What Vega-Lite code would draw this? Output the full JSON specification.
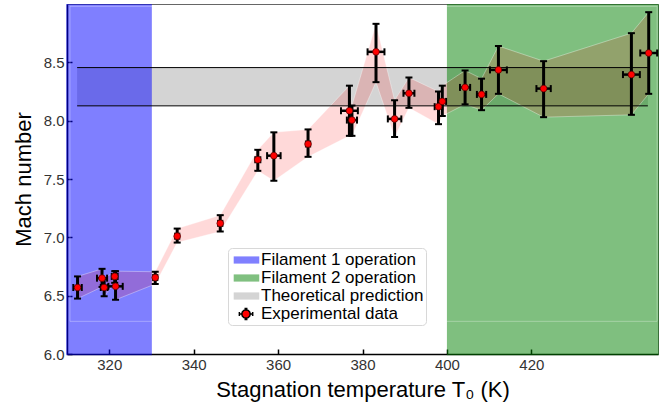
{
  "$schema": "https://vega.github.io/schema/vega-lite/v6.json",
  "width": 591,
  "height": 350,
  "autosize": {"type": "none"},
  "padding": {"left": 67, "top": 4, "right": 3, "bottom": 53},
  "config": {
    "font": "Liberation Sans",
    "view": {"stroke": "#666", "strokeWidth": 1},
    "legend": {"symbolFillColor": "#ff0000"}
  },
  "datasets": {
    "exp": [
      {"T": 312.5, "M": 6.57, "Mlo": 6.475, "Mhi": 6.665, "Tlo": 311.5, "Thi": 313.5},
      {"T": 318.3, "M": 6.65, "Mlo": 6.575, "Mhi": 6.73, "Tlo": 317.1, "Thi": 319.5},
      {"T": 318.8, "M": 6.57, "Mlo": 6.495, "Mhi": 6.645, "Tlo": 318.0, "Thi": 319.6},
      {"T": 321.3, "M": 6.665, "Mlo": 6.61, "Mhi": 6.71, "Tlo": 320.6, "Thi": 322.0},
      {"T": 321.5, "M": 6.58, "Mlo": 6.465, "Mhi": 6.71, "Tlo": 319.8, "Thi": 323.2},
      {"T": 330.9, "M": 6.655, "Mlo": 6.6, "Mhi": 6.705, "Tlo": 330.4, "Thi": 331.4},
      {"T": 336.1, "M": 7.01, "Mlo": 6.955, "Mhi": 7.075, "Tlo": 335.6, "Thi": 336.6},
      {"T": 346.3, "M": 7.12, "Mlo": 7.05, "Mhi": 7.19, "Tlo": 345.8, "Thi": 346.8},
      {"T": 355.2, "M": 7.665, "Mlo": 7.57, "Mhi": 7.75, "Tlo": 354.6, "Thi": 355.8},
      {"T": 359.0, "M": 7.7, "Mlo": 7.485, "Mhi": 7.9, "Tlo": 357.4, "Thi": 360.6},
      {"T": 367.1, "M": 7.8, "Mlo": 7.69, "Mhi": 7.925, "Tlo": 366.6, "Thi": 367.6},
      {"T": 376.9, "M": 8.085, "Mlo": 7.87, "Mhi": 8.3, "Tlo": 374.9, "Thi": 378.9},
      {"T": 377.5, "M": 8.005, "Mlo": 7.87, "Mhi": 8.13, "Tlo": 376.3, "Thi": 378.7},
      {"T": 383.2, "M": 8.59, "Mlo": 8.33, "Mhi": 8.83, "Tlo": 381.2, "Thi": 385.2},
      {"T": 387.6, "M": 8.015, "Mlo": 7.86, "Mhi": 8.175, "Tlo": 386.0, "Thi": 389.2},
      {"T": 391.0, "M": 8.235, "Mlo": 8.11, "Mhi": 8.37, "Tlo": 389.7, "Thi": 392.3},
      {"T": 398.0, "M": 8.12, "Mlo": 7.97, "Mhi": 8.25, "Tlo": 397.1, "Thi": 398.9},
      {"T": 398.9, "M": 8.165, "Mlo": 8.04, "Mhi": 8.3, "Tlo": 398.0, "Thi": 399.8},
      {"T": 404.3, "M": 8.285, "Mlo": 8.14, "Mhi": 8.43, "Tlo": 403.1, "Thi": 405.5},
      {"T": 408.2, "M": 8.225, "Mlo": 8.09, "Mhi": 8.36, "Tlo": 407.1, "Thi": 409.3},
      {"T": 412.2, "M": 8.435, "Mlo": 8.23, "Mhi": 8.64, "Tlo": 410.2, "Thi": 414.2},
      {"T": 422.9, "M": 8.275, "Mlo": 8.03, "Mhi": 8.51, "Tlo": 421.2, "Thi": 424.6},
      {"T": 443.7, "M": 8.395, "Mlo": 8.05, "Mhi": 8.75, "Tlo": 441.7, "Thi": 445.7},
      {"T": 447.8, "M": 8.58, "Mlo": 8.23, "Mhi": 8.93, "Tlo": 445.8, "Thi": 449.8}
    ],
    "theory": [
      {"x1": 312.4, "x2": 447.6, "y1": 8.127, "y2": 8.455}
    ],
    "theoryLines": [
      {"x1": 312.4, "x2": 447.6, "y": 8.455},
      {"x1": 312.4, "x2": 447.6, "y": 8.127}
    ],
    "regions": [
      {"name": "Filament 1 operation", "x1": 309.8, "x2": 330.1, "y1": 5.99, "y2": 9.0, "c": "#0000ff"},
      {"name": "Filament 2 operation", "x1": 400.0, "x2": 450.2, "y1": 5.99, "y2": 9.0, "c": "#008000"}
    ],
    "frame": [
      {"x1": 310.7, "x2": 449.8, "y1": 6.28, "y2": 8.98}
    ],
    "legendItems": [
      {"label": "Filament 1 operation"},
      {"label": "Filament 2 operation"},
      {"label": "Theoretical prediction"},
      {"label": "Experimental data"}
    ]
  },
  "layer": [
    {
      "data": {"name": "theory"},
      "mark": {"type": "rect", "fill": "#d4d4d4"},
      "encoding": {
        "x": {"field": "x1", "type": "quantitative", "scale": {"domain": [310, 450], "nice": false, "zero": false},
          "axis": {
            "title": "Stagnation temperature T₀ (K)",
            "values": [320, 340, 360, 380, 400, 420],
            "format": "d",
            "grid": false,
            "zindex": 0,
            "tickSize": -5,
            "tickWidth": 1.5,
            "tickColor": "#000",
            "domainColor": "#000",
            "domainWidth": 1.5,
            "labelPadding": 8,
            "labelFont": "Liberation Sans",
            "labelFontSize": 15,
            "labelColor": "#333",
            "titleFont": "Liberation Sans",
            "titleFontSize": 22,
            "titleFontWeight": "normal",
            "titleColor": "#000",
            "titlePadding": 7
          }},
        "x2": {"field": "x2"},
        "y": {"field": "y1", "type": "quantitative", "scale": {"domain": [6, 9], "nice": false, "zero": false},
          "axis": {
            "title": "Mach number",
            "values": [6, 6.5, 7, 7.5, 8, 8.5],
            "format": ".1f",
            "grid": false,
            "zindex": 0,
            "tickSize": -5,
            "tickWidth": 1.5,
            "tickColor": "#000",
            "domainColor": "#000",
            "domainWidth": 1.5,
            "labelPadding": 8,
            "labelFont": "Liberation Sans",
            "labelFontSize": 15,
            "labelColor": "#333",
            "titleFont": "Liberation Sans",
            "titleFontSize": 22,
            "titleFontWeight": "normal",
            "titleColor": "#000",
            "titlePadding": 8
          }},
        "y2": {"field": "y2"}
      }
    },
    {
      "data": {"name": "regions"},
      "mark": {"type": "rect", "opacity": 0.5},
      "encoding": {
        "x": {"field": "x1", "type": "quantitative", "scale": {"domain": [310, 450], "nice": false, "zero": false}},
        "x2": {"field": "x2"},
        "y": {"field": "y1", "type": "quantitative", "scale": {"domain": [6, 9], "nice": false, "zero": false}},
        "y2": {"field": "y2"},
        "color": {"field": "c", "type": "nominal", "scale": null}
      }
    },
    {
      "data": {"name": "frame"},
      "mark": {"type": "rect", "fill": "transparent", "stroke": "white", "strokeOpacity": 0.3, "strokeWidth": 1},
      "encoding": {
        "x": {"field": "x1", "type": "quantitative", "scale": {"domain": [310, 450], "nice": false, "zero": false}},
        "x2": {"field": "x2"},
        "y": {"field": "y1", "type": "quantitative", "scale": {"domain": [6, 9], "nice": false, "zero": false}},
        "y2": {"field": "y2"}
      }
    },
    {
      "data": {"name": "exp"},
      "mark": {"type": "area", "fill": "#ff0000", "fillOpacity": 0.15, "stroke": "white", "strokeOpacity": 0.35, "strokeWidth": 1},
      "encoding": {
        "x": {"field": "T", "type": "quantitative", "scale": {"domain": [310, 450], "nice": false, "zero": false}},
        "y": {"field": "Mlo", "type": "quantitative", "scale": {"domain": [6, 9], "nice": false, "zero": false}},
        "y2": {"field": "Mhi"}
      }
    },
    {
      "data": {"name": "theoryLines"},
      "mark": {"type": "rule", "color": "#000", "strokeWidth": 1},
      "encoding": {
        "x": {"field": "x1", "type": "quantitative", "scale": {"domain": [310, 450], "nice": false, "zero": false}},
        "x2": {"field": "x2"},
        "y": {"field": "y", "type": "quantitative", "scale": {"domain": [6, 9], "nice": false, "zero": false}}
      }
    },
    {
      "data": {"name": "exp"},
      "mark": {"type": "rule", "color": "#000", "strokeWidth": 3},
      "encoding": {
        "x": {"field": "T", "type": "quantitative", "scale": {"domain": [310, 450], "nice": false, "zero": false}},
        "y": {"field": "Mlo", "type": "quantitative", "scale": {"domain": [6, 9], "nice": false, "zero": false}},
        "y2": {"field": "Mhi"}
      }
    },
    {
      "data": {"name": "exp"},
      "mark": {"type": "rule", "color": "#000", "strokeWidth": 2.5},
      "encoding": {
        "x": {"field": "Tlo", "type": "quantitative", "scale": {"domain": [310, 450], "nice": false, "zero": false}},
        "x2": {"field": "Thi"},
        "y": {"field": "M", "type": "quantitative", "scale": {"domain": [6, 9], "nice": false, "zero": false}}
      }
    },
    {
      "data": {"name": "exp"},
      "mark": {"type": "tick", "orient": "horizontal", "color": "#000", "opacity": 1, "size": 7, "thickness": 2},
      "encoding": {
        "x": {"field": "T", "type": "quantitative", "scale": {"domain": [310, 450], "nice": false, "zero": false}},
        "y": {"field": "Mhi", "type": "quantitative", "scale": {"domain": [6, 9], "nice": false, "zero": false}}
      }
    },
    {
      "data": {"name": "exp"},
      "mark": {"type": "tick", "orient": "horizontal", "color": "#000", "opacity": 1, "size": 7, "thickness": 2},
      "encoding": {
        "x": {"field": "T", "type": "quantitative", "scale": {"domain": [310, 450], "nice": false, "zero": false}},
        "y": {"field": "Mlo", "type": "quantitative", "scale": {"domain": [6, 9], "nice": false, "zero": false}}
      }
    },
    {
      "data": {"name": "exp"},
      "mark": {"type": "tick", "orient": "vertical", "color": "#000", "opacity": 1, "size": 7, "thickness": 2},
      "encoding": {
        "x": {"field": "Tlo", "type": "quantitative", "scale": {"domain": [310, 450], "nice": false, "zero": false}},
        "y": {"field": "M", "type": "quantitative", "scale": {"domain": [6, 9], "nice": false, "zero": false}}
      }
    },
    {
      "data": {"name": "exp"},
      "mark": {"type": "tick", "orient": "vertical", "color": "#000", "opacity": 1, "size": 7, "thickness": 2},
      "encoding": {
        "x": {"field": "Thi", "type": "quantitative", "scale": {"domain": [310, 450], "nice": false, "zero": false}},
        "y": {"field": "M", "type": "quantitative", "scale": {"domain": [6, 9], "nice": false, "zero": false}}
      }
    },
    {
      "data": {"name": "exp"},
      "mark": {"type": "point", "shape": "circle", "filled": true, "fill": "#ff0000", "stroke": "#500000", "strokeWidth": 0.7, "opacity": 1, "size": 45},
      "encoding": {
        "x": {"field": "T", "type": "quantitative", "scale": {"domain": [310, 450], "nice": false, "zero": false}},
        "y": {"field": "M", "type": "quantitative", "scale": {"domain": [6, 9], "nice": false, "zero": false}}
      }
    },
    {
      "data": {"name": "legendItems"},
      "mark": {"type": "point", "filled": true, "opacity": 0, "strokeWidth": 1.5},
      "encoding": {
        "fill": {
          "field": "label", "type": "nominal",
          "scale": {"domain": ["Filament 1 operation", "Filament 2 operation", "Theoretical prediction", "Experimental data"],
                    "range": ["#8080ff", "#80c080", "#d4d4d4", "#ff0000"]},
          "legend": {
            "orient": "none",
            "legendX": 161,
            "legendY": 244,
            "title": null,
            "symbolSize": 324,
            "symbolStrokeWidth": 1.5,
            "symbolOpacity": 1,
            "labelFont": "Liberation Sans",
            "labelFontSize": 17,
            "labelColor": "#000",
            "labelOffset": 11,
            "labelLimit": 0,
            "padding": 2,
            "rowPadding": 0,
            "fillColor": "#ffffff",
            "strokeColor": "#d8d8d8",
            "cornerRadius": 4
          }
        },
        "stroke": {
          "field": "label", "type": "nominal",
          "scale": {"domain": ["Filament 1 operation", "Filament 2 operation", "Theoretical prediction", "Experimental data"],
                    "range": ["transparent", "transparent", "transparent", "#000000"]}
        },
        "shape": {
          "field": "label", "type": "nominal",
          "scale": {"domain": ["Filament 1 operation", "Filament 2 operation", "Theoretical prediction", "Experimental data"],
                    "range": [
                      "M-0.7,-0.4H2.14V0.4H-0.7Z",
                      "M-0.7,-0.4H2.14V0.4H-0.7Z",
                      "M-0.7,-0.4H2.14V0.4H-0.7Z",
                      "M1.137,0L1.074,0.235L0.902,0.407L0.667,0.47L0.432,0.407L0.26,0.235L0.197,0L0.26,-0.235L0.432,-0.407L0.667,-0.47L0.902,-0.407L1.074,-0.235Z M-0.07,0H0.197 M1.137,0H1.41 M-0.07,-0.22V0.22 M1.41,-0.22V0.22 M0.667,-0.47V-0.61 M0.667,0.47V0.61 M0.5,-0.61H0.83 M0.5,0.61H0.83"
                    ]}
        }
      }
    }
  ]
}
